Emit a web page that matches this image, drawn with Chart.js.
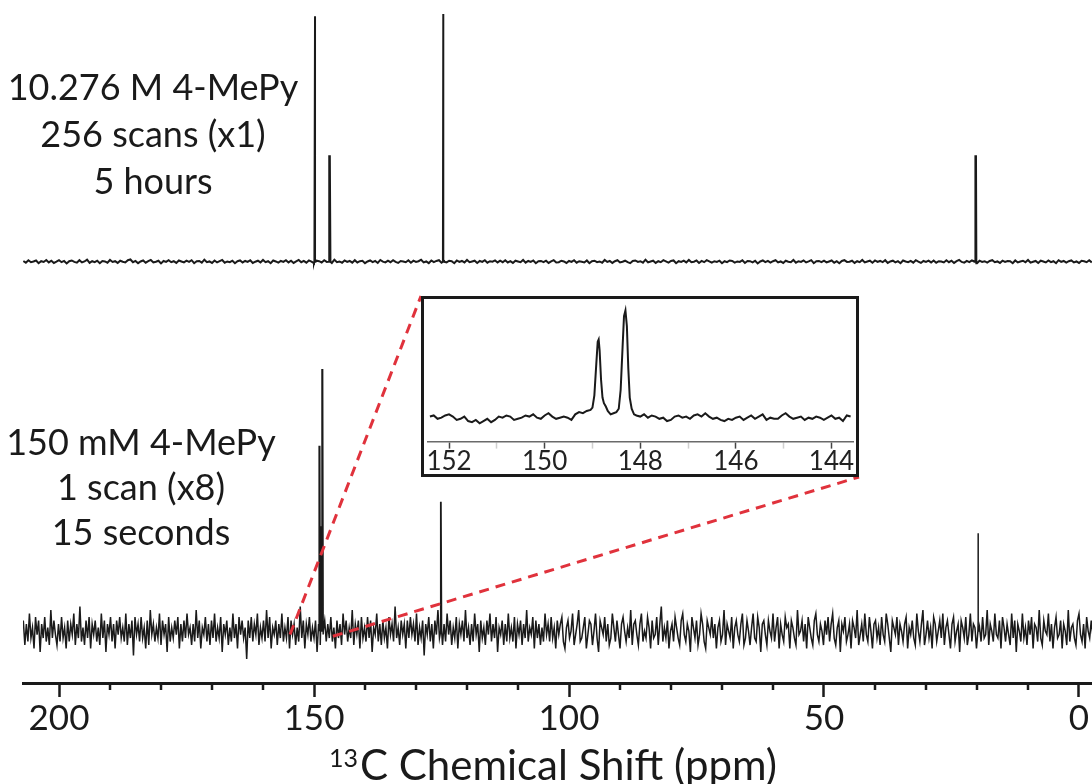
<!DOCTYPE html>
<html>
<head>
<meta charset="utf-8">
<script src="https://cdn.jsdelivr.net/npm/chart.js@4.4.1/dist/chart.umd.min.js"></script>
<style>
  html, body { margin: 0; padding: 0; background: #fff; }
  #wrap { position: relative; width: 1092px; height: 784px; overflow: hidden; }
  #main { position: absolute; left: 0; top: 0; }
  #insetBox {
    position: absolute; left: 421px; top: 296px; width: 438px; height: 181px;
    box-sizing: border-box; border: 3px solid #1a1a1a; background: #fff;
  }
  #inset { display: block; }
</style>
</head>
<body>
<div id="wrap">
  <canvas id="main" width="1092" height="784"></canvas>
  <div id="insetBox"><canvas id="inset" width="432" height="175"></canvas></div>
</div>
<script>
const FONT = 'Lato, "Open Sans", sans-serif';
const INK = '#1a1a1a';

// ppm axis
const axisTicks = [0, 10, 20, 30, 40, 50, 60, 70, 80, 90, 100, 110, 120, 130, 140, 150, 160, 170, 180, 190, 200];
const axisLabelEvery = 50;

// top trace: 10.276 M, 256 scans (sampled every 0.5 ppm from 207 ppm)
const topStart = 207;
const topStep = 0.5;
const topNoise = [
  0.3, -0.4, 0.6, -0.2, 0.1, 0.5, -0.6, 0.2, -0.1, 0.7, -0.3, 0.4, -0.5, 0.0, 0.6, -0.2, 0.3, -0.7, 0.2, 0.5, -0.1,
  -0.4, 0.6, -0.3, 0.1, 0.8, -0.5, 0.2, -0.2, 0.4, -0.6, 0.3, 0.1, -0.4, 0.7, -0.1, 0.2, -0.5, 0.4, 0.0, -0.3, 0.6,
  0.9, -0.2, 0.3, -0.6, 0.1, 0.5, -0.4, 0.2, 0.7, -0.3, 0.0, 0.4, -0.7, 0.3, -0.1, 0.6, -0.2, 0.2, -0.5, 0.5, 0.1,
  -0.3, 0.4, -0.1, 0.6, -0.6, 0.2, 0.3, -0.4, 0.8, -0.2, 0.1, -0.5, 0.5, -0.3, 0.2, 0.7, -0.4, 0.1, -0.2, 0.4, -0.6,
  0.2, 0.5, -0.3, 0.3, -0.1, 0.6, -0.5, 0.0, 0.4, -0.3, 0.7, -0.2, 0.2, -0.6, 0.5, 0.1, -0.4, 0.3, -0.1, 0.6, -0.3,
  0.4, -0.5, 0.1, 0.7, -0.2, 0.3, -0.4, 0.5, 0.0, -0.6, 0.4, 0.2, -0.3, 0.6, -0.1, 0.3, -0.5, 0.8, -0.2, 0.1, -0.4,
  0.5, -0.1, 0.3, -0.4, 0.6, -0.3, 0.2, 0.4, -0.6, 0.1, 0.5, -0.2, 0.3, -0.5, 0.7, 0.0, -0.3, 0.4, -0.2, 0.6, -0.1,
  -0.5, 0.3, 0.1, -0.2, 0.6, -0.4, 0.4, -0.1, 0.2, 0.8, -0.3, 0.1, -0.6, 0.5, -0.2, 0.3, 0.6, -0.4, 0.1, -0.3, 0.4,
  0.2, -0.6, 0.5, -0.1, 0.3, -0.3, 0.7, -0.2, 0.1, 0.4, -0.5, 0.3, -0.1, 0.6, -0.4, 0.2, 0.0, 0.5, -0.3, 0.4, -0.2,
  0.6, -0.3, 0.2, -0.5, 0.4, 0.1, -0.2, 0.7, -0.4, 0.3, -0.1, 0.5, -0.6, 0.2, 0.3, -0.2, 0.4, -0.5, 0.1, 0.6, -0.3,
  -0.2, 0.4, 0.1, -0.5, 0.3, -0.1, 0.6, -0.4, 0.2, 0.0, -0.3, 0.5, -0.6, 0.2, 0.4, -0.2, 0.1, -0.4, 0.7, -0.1, 0.3,
  -0.5, 0.2, 0.6, -0.3, 0.0, 0.4, -0.2, -0.6, 0.3, 0.5, -0.1, 0.2, -0.4, 0.8, -0.3, 0.1, 0.4, -0.5, 0.2, -0.2, 0.6,
  0.1, -0.4, 0.3, 0.5, -0.6, 0.2, -0.1, 0.4, -0.3, 0.7, -0.2, 0.0, 0.5, -0.5, 0.3, -0.2, 0.6, 0.1, -0.4, 0.2, -0.1,
  0.4, -0.6, 0.2, -0.2, 0.5, 0.3, -0.4, 0.1, -0.1, 0.6, -0.5, 0.3, 0.2, -0.3, 0.4, -0.7, 0.1, 0.5, -0.2, 0.3, -0.4,
  0.2, 0.6, -0.3, 0.1, -0.5, 0.4, 0.0, -0.2, 0.7, -0.4, 0.2, -0.1, 0.5, -0.3, 0.1, 0.6, -0.6, 0.2, 0.3, -0.2, 0.4,
  -0.3, 0.1, 0.5, -0.4, 0.2, -0.6, 0.3, 0.6, -0.1, 0.0, 0.4, -0.5, 0.2, -0.2, 0.7, -0.3, 0.1, 0.4, -0.4, 0.5, -0.1,
  0.3, -0.2, 0.6, -0.5, 0.1, 0.4, -0.3, 0.2, -0.6, 0.5, 0.1, -0.2, 0.3, -0.4, 0.6, 0.0, -0.5, 0.3, -0.1, 0.4, -0.3,
  0.5, -0.4, 0.2, 0.1, -0.3, 0.6, -0.2, 0.4, -0.5, 0.2, 0.7, -0.1, -0.4, 0.3, -0.2, 0.5, 0.1, -0.6, 0.4, -0.1, 0.2,
  -0.4, 0.3, 0.6, -0.2, 0.1, -0.5, 0.4, -0.1, 0.3, 0.2, -0.6, 0.5, -0.3, 0.1, 0.4, -0.2, 0.7, -0.4, 0.0, 0.3, -0.5,
  0.4, 0.1, -0.3, 0.5, -0.2, 0.2, -0.6, 0.6, -0.1, 0.3, -0.4, 0.2, 0.5, -0.3, 0.1, -0.5, 0.4, 0.2, -0.2, 0.6, -0.3
];
const topPeakShift = [149.8, 146.9, 124.7, 124.6, 20.3, 20.2];
const topPeakHeight = [99, 43, 100, 10, 12, 43];

// bottom trace: 150 mM, 1 scan x8 (sampled every 0.3 ppm from 207 ppm)
const botStart = 207;
const botStep = 0.3;
const botNoise = [
  3, -4, 2, -3, 5, -2, 1, -5, 4, -1, 3, -6, 2, -2, 4, -3, 1, -4, 6, -2, 3, -1, -4, 2, -3,
  4, -2, 1, -5, 3, -3, 2, -1, 5, -4, 2, -2, 7, -3, 1, -4, 3, -2, 4, -5, 2, -1, 3, -3, 1,
  -4, 5, -2, 3, -6, 2, -1, 4, -3, 2, -5, 3, -1, 4, -2, 1, -3, 5, -4, 2, -2, 3, -7, 4, -1,
  2, -3, 4, -2, 1, -5, 3, -4, 6, -1, 2, -3, 1, -2, 5, -4, 3, -1, 2, -6, 4, -3, 1, -2, 3,
  -1, 4, -5, 2, -3, 3, -2, 5, -1, 1, -4, 2, -3, 6, -2, 3, -5, 1, -1, 4, -3, 2, -4, 3, -2,
  5, -3, 1, -2, 4, -6, 2, -1, 3, -4, 1, -3, 5, -2, 2, -5, 4, -1, 3, -2, 1, -8, 3, -2, 4,
  -3, 2, -1, 5, -4, 1, -2, 3, -3, 6, -2, 4, -5, 1, -1, 3, -4, 2, -2, 5, -3, 1, -2, 4, -5,
  3, -1, 2, -4, 1, -3, 7, -2, 3, -5, 2, -1, 4, -3, 1, -2, 3, -6, 2, -4, 5, -1, 3, -3, 2,
  -2, 4, -3, 1, -5, 3, -2, 2, -4, 5, -1, 3, -3, 1, -2, 6, -4, 2, -1, 3, -5, 4, -2, 1, -3,
  4, -2, 3, -6, 1, -1, 5, -3, 2, -4, 3, -2, 1, -5, 4, -1, 2, -3, 7, -2, 1, -4, 3, -1, 2,
  -5, 3, -2, 4, -1, 2, -3, 5, -4, 1, -2, 3, -7, 2, -1, 4, -3, 2, -5, 3, -1, 6, -2, 1, -4,
  2, -3, 5, -1, 3, -4, 1, -2, 4, -5, 2, -1, 3, -3, 6, -2, 1, -4, 2, -3, 5, -1, 2, -6, 3,
  -2, 1, -4, 3, -1, 5, -3, 2, -2, 4, -6, 1, -1, 3, -4, 2, -3, 5, -2, 1, -3, 4, -5, 2, -1,
  3, -4, 2, -2, 6, -3, 1, -1, 4, -5, 3, -2, 2, -4, 1, -3, 5, -1, 2, -3, 4, -2, 1, -5, 3,
  -1, 2, 4, -3, -5, 1, 3, -2, 0, 5, -4, -1, 2, 6, -3, -2, 1, 4, -5, -1, 3, 2, -4, 0, 5,
  -2, -6, 3, 1, -1, 4, -3, 2, -4, -2, 5, 1, -3, 3, -1, -5, 2, 4, 0, -3, 1, -2, 6, -4, 2,
  3, -1, -4, 2, 5, -3, 0, -2, 4, 1, -5, 3, -2, -1, 4, -4, 2, 7, -3, 1, -2, 3, -5, 0, 2,
  -3, 4, 1, -2, -4, 3, 5, -1, -3, 2, 0, -6, 4, 1, -2, 3, -4, -1, 5, 2, -3, -5, 3, 1, -1,
  4, -2, 2, -5, 1, 3, -3, -1, 6, -4, 2, 0, -2, 4, -5, 1, 3, -1, -3, 2, 5, -4, -2, 3, 0,
  -4, 1, 5, -2, -3, 4, 1, -6, 2, 3, -1, -4, 3, 0, -2, 5, -3, 1, 4, -5, 2, -1, -3, 4, 1,
  2, -5, 3, 1, -2, -4, 6, -1, 0, 3, -3, 2, -5, 4, 1, -2, -4, 3, 5, -1, -3, 2, 0, -4, 3,
  -1, 4, -3, 2, 5, -2, -4, 1, 3, -6, 2, 0, 4, -3, -1, 2, -5, 3, 1, -2, 6, -4, -1, 2, -3,
  5, -1, -3, 4, 0, -5, 2, 3, -2, 1, -4, 4, -1, -3, 5, 2, -2, -6, 3, 1, -1, 4, -4, 2, 0,
  -3, 2, 4, -5, 1, -1, 3, -2, -4, 5, 0, -3, 2, 6, -4, -1, 3, -2, 1, -5, 4, 2, -3, 0, 3,
  -2, 5, -4, 1, 3, -1, -5, 2, 4, -3, 0, 2, -6, 3, 1, -2, 4, -4, -1, 5, -3, 2, 1, -5, 3,
  1, -3, 4, -2, -1, 6, -4, 2, 0, -3, 5, -1, -2, 3, -5, 4, 1, -3, 2, -1, -4, 5, -2, 3, -6,
  2, 0, -3, 5, -2, 1, -4, 3, -1, 4, -5, 2, 1, -3, 6, -2, -4, 3, 0, -1, 5, -3, 2, -5, 1,
  4, -2, -1, 3, -5, 2, 0, -4, 6, -3, 1, 2, -2, -4, 3, 5, -1, -3, 2, -5, 4, 0, -2, 3, -1
];
const botPeakShift = [148.87, 148.6, 148.31, 125.1, 19.8, 19.7];
const botPeakHeight = [53, 30, 75, 37, 10, 28];

// zoom guides: where the dashed lines leave the bottom trace
const zoomFromShift = [154.7, 146.3];
const zoomFromLevel = [-1, -1.5];

// inset: 152.4 -> 143.6 ppm, sampled every 0.08 ppm
const insetStart = 152.40;
const insetStep = 0.08;
const insetNoise = [
  1, 2, -1, 0, 2, 3, 1, -2, -1, 1, -3, -4,
  -2, -5, -3, -1, -4, -2, 1, 0, 2, 1, -2, -1,
  0, 2, 1, 3, 0, -1, 2, 4, 1, -1, 0, 1,
  0, -2, 3, 5, 4, 6, 6, 5, 3, 2, 3, 4,
  5, 3, 2, 3, 2, 1, 2, 1, 3, 0, 2, 1,
  -1, 0, -3, -2, 1, 2, 0, 1, -1, 2, 3, 1,
  4, 1, -1, 0, -2, -3, -1, -2, 0, 1, -2, 0,
  2, -1, 1, 3, -2, 0, -1, -1, 2, 4, 1, -1,
  0, 1, -2, 0, -1, 1, 0, -2, 0, 2, -1, 0,
  -3, 2, 1
];
const insetPeakShift = [149.04, 149.00, 148.96, 148.92, 148.89, 148.87, 148.85, 148.82, 148.79, 148.76, 148.72, 148.68, 148.62, 148.56, 148.50, 148.45, 148.41, 148.37, 148.34, 148.31, 148.28, 148.25, 148.22, 148.18, 148.13];
const insetPeakValue = [7, 9, 20, 48, 68, 70, 60, 34, 18, 13, 10, 6, 3, 4, 5, 8, 25, 63, 91, 96, 82, 44, 18, 8, 3];
const insetTicks = [144, 145, 146, 147, 148, 149, 150, 151, 152];

const topLabel = ['10.276 M 4-MePy', '256 scans (x1)', '5 hours'];
const bottomLabel = ['150 mM 4-MePy', '1 scan (x8)', '15 seconds'];
const axisTitleSup = '13';
const axisTitle = 'C Chemical Shift (ppm)';

const SPIKE = 0.12;

function buildSpectrum(start, step, noise, shifts, heights) {
  const points = noise.map((v, i) => ({ x: start - step * i, y: v }));
  shifts.forEach((s, i) => {
    points.push({ x: s + SPIKE, y: 0 }, { x: s, y: heights[i] }, { x: s - SPIKE, y: 0 });
  });
  return points.sort((a, b) => a.x - b.x);
}

function buildInset() {
  const lo = Math.min(...insetPeakShift);
  const hi = Math.max(...insetPeakShift);
  const points = insetNoise
    .map((v, i) => ({ x: insetStart - insetStep * i, y: v }))
    .filter(p => p.x < lo - 0.02 || p.x > hi + 0.02);
  insetPeakShift.forEach((s, i) => points.push({ x: s, y: insetPeakValue[i] }));
  return points.sort((a, b) => a.x - b.x);
}

const annotate = {
  id: 'annotate',
  afterDatasetsDraw(chart) {
    const { ctx, scales: { x, yBot } } = chart;
    const box = document.getElementById('insetBox');
    const corners = [
      [box.offsetLeft, box.offsetTop],
      [box.offsetLeft + box.offsetWidth, box.offsetTop + box.offsetHeight]
    ];
    ctx.save();
    ctx.strokeStyle = '#e0323c';
    ctx.lineWidth = 3;
    ctx.setLineDash([10, 7]);
    zoomFromShift.forEach((s, i) => {
      ctx.beginPath();
      ctx.moveTo(x.getPixelForValue(s), yBot.getPixelForValue(zoomFromLevel[i]));
      ctx.lineTo(corners[i][0], corners[i][1]);
      ctx.stroke();
    });
    ctx.restore();
  },
  afterDraw(chart) {
    const { ctx, scales: { x } } = chart;
    ctx.save();
    // minor ticks are half the length of the labelled ones
    ctx.strokeStyle = INK;
    ctx.lineWidth = 2.5;
    axisTicks.filter(v => v % axisLabelEvery !== 0).forEach(v => {
      const px = x.getPixelForValue(v);
      ctx.beginPath();
      ctx.moveTo(px, x.top);
      ctx.lineTo(px, x.top + 7);
      ctx.stroke();
    });

    ctx.fillStyle = INK;
    ctx.textAlign = 'center';
    ctx.font = `36px ${FONT}`;
    topLabel.forEach((t, i) => ctx.fillText(t, 153, 100 + i * 47));
    bottomLabel.forEach((t, i) => ctx.fillText(t, 141, 455 + i * 45));

    // axis title with superscript mass number
    ctx.textAlign = 'left';
    ctx.font = `25px ${FONT}`;
    const supW = ctx.measureText(axisTitleSup).width;
    ctx.font = `42px ${FONT}`;
    const mainW = ctx.measureText(axisTitle).width;
    const left = 553 - (supW + 2 + mainW) / 2;
    ctx.fillText(axisTitle, left + supW + 2, 780);
    ctx.font = `25px ${FONT}`;
    ctx.fillText(axisTitleSup, left, 767);
    ctx.restore();
  }
};

new Chart(document.getElementById('main'), {
  type: 'line',
  data: {
    datasets: [
      {
        data: buildSpectrum(topStart, topStep, topNoise, topPeakShift, topPeakHeight),
        yAxisID: 'yTop',
        borderColor: INK,
        borderWidth: 2,
        pointRadius: 0,
        tension: 0
      },
      {
        data: buildSpectrum(botStart, botStep, botNoise, botPeakShift, botPeakHeight),
        yAxisID: 'yBot',
        borderColor: INK,
        borderWidth: 1.5,
        pointRadius: 0,
        tension: 0
      }
    ]
  },
  options: {
    responsive: false,
    animation: false,
    parsing: false,
    layout: { padding: { left: 23, right: 0, top: 0, bottom: 43 } },
    scales: {
      x: {
        type: 'linear',
        reverse: true,
        min: -2.55,
        max: 207.06,
        afterBuildTicks(axis) {
          axis.ticks = axisTicks.map(v => ({ value: v }));
        },
        grid: {
          drawOnChartArea: false,
          drawTicks: true,
          tickLength: 14,
          tickWidth: 2.5,
          tickColor: c => (c.tick && c.tick.value % axisLabelEvery === 0 ? INK : 'rgba(0,0,0,0)')
        },
        border: { display: true, color: INK, width: 3 },
        ticks: {
          autoSkip: false,
          maxRotation: 0,
          padding: 1,
          color: INK,
          font: { family: FONT, size: 35, lineHeight: 1.2 },
          callback: v => (v % axisLabelEvery === 0 ? String(v) : '')
        }
      },
      yTop: { display: false, min: -170, max: 105.6 },
      yBot: { display: false, min: -14.86, max: 180.57 }
    },
    plugins: { legend: { display: false }, tooltip: { enabled: false } }
  },
  plugins: [annotate]
});

new Chart(document.getElementById('inset'), {
  type: 'line',
  data: {
    datasets: [{
      data: buildInset(),
      borderColor: INK,
      borderWidth: 2,
      pointRadius: 0,
      tension: 0
    }]
  },
  options: {
    responsive: false,
    animation: false,
    parsing: false,
    layout: { padding: { left: 4, right: 3, top: 0, bottom: 0 } },
    scales: {
      x: {
        type: 'linear',
        reverse: true,
        min: 143.55,
        max: 152.44,
        afterBuildTicks(axis) {
          axis.ticks = insetTicks.map(v => ({ value: v }));
        },
        grid: {
          drawOnChartArea: false,
          tickLength: 7,
          tickWidth: 1.5,
          tickColor: c => (c.tick && c.tick.value % 2 === 0 ? '#444' : '#cfcfcf')
        },
        border: { display: true, color: '#6a6a6a', width: 1.5 },
        ticks: {
          autoSkip: false,
          maxRotation: 0,
          padding: 1,
          color: '#222',
          font: { family: FONT, size: 26, lineHeight: 0.9 },
          callback: v => (v % 2 === 0 ? String(v) : '')
        }
      },
      y: { display: false, min: -21.4, max: 106.25 }
    },
    plugins: { legend: { display: false }, tooltip: { enabled: false } }
  }
});
</script>
</body>
</html>
